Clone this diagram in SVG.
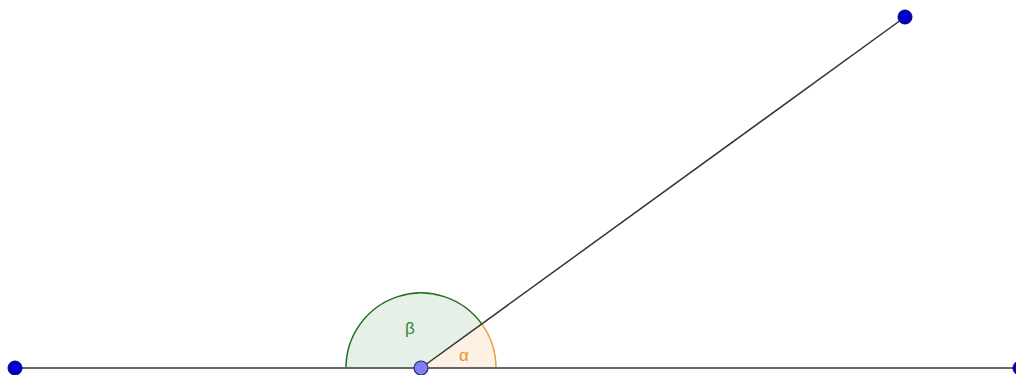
<svg xmlns="http://www.w3.org/2000/svg" width="1016" height="375" viewBox="0 0 1016 375">
<style>
.pt{fill:#0000cc;stroke:#00006a;stroke-width:1}
.lbl{font-family:"Liberation Sans",sans-serif;font-size:17px}
</style>
<rect width="1016" height="375" fill="#ffffff"/>
<g id="angle-beta">
<path d="M421,368 L481.7,323.9 A75,75 0 0 0 346,368 Z" fill="#e6f0e6" stroke="none"/>
<path d="M481.7,323.9 A75,75 0 0 0 346,368" fill="none" stroke="#1e6e1e" stroke-width="1.5"/>
<text class="lbl" x="410" y="334" fill="#2e8b2e" text-anchor="middle">β</text>
</g>
<g id="angle-alpha">
<path d="M421,368 L496,368 A75,75 0 0 0 481.7,323.9 Z" fill="#fdf1e3" stroke="none"/>
<path d="M496,368 A75,75 0 0 0 481.7,323.9" fill="none" stroke="#e8a040" stroke-width="1.5"/>
<text class="lbl" x="464" y="361" fill="#e8901e" text-anchor="middle">α</text>
</g>
<g id="connectors">
<line x1="15" y1="368" x2="1016" y2="368" stroke="#666666" stroke-width="2"/>
<line x1="421" y1="368" x2="905" y2="17" stroke="#333333" stroke-width="1.5"/>
</g>
<g id="point-left"><circle class="pt" cx="15" cy="368" r="7"/></g>
<g id="point-right"><circle class="pt" cx="1020" cy="368" r="7"/></g>
<g id="point-top"><circle class="pt" cx="905" cy="17" r="7"/></g>
<g id="point-vertex"><circle cx="421" cy="368" r="7" fill="#8080f0" stroke="#2a2a70" stroke-width="1.2"/></g>
</svg>
